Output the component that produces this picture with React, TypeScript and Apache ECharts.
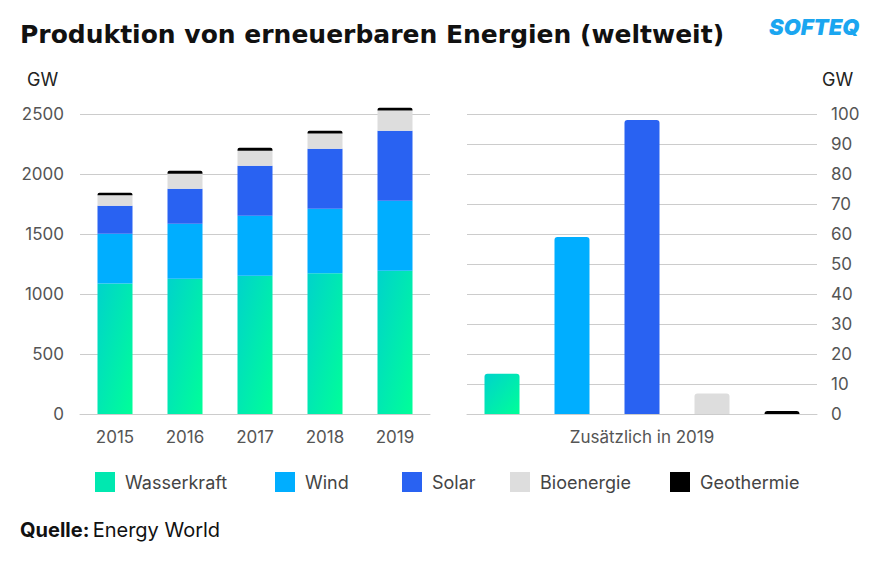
import React, { useEffect, useRef } from "react";
import * as echarts from "echarts";

const years = ["2015", "2016", "2017", "2018", "2019"];
const seriesNames = ["Wasserkraft", "Wind", "Solar", "Bioenergie", "Geothermie"];
const hydro = [1088, 1127, 1152, 1172, 1194];
const wind = [414, 459, 500, 539, 583];
const solar = [233, 291, 417, 500, 584];
const bio = [87, 125, 125, 127, 169];
const geo = [22, 25, 25, 23, 22];
const added2019 = [13.4, 59, 98, 6.8, 1];
const rightCategory = ["Zusätzlich in 2019"];
const leftTicks = { min: 0, max: 2500, interval: 500 };
const rightTicks = { min: 0, max: 100, interval: 10 };

const FONT = "Inter, 'Noto Sans', sans-serif";
const TITLE_FONT = "'DejaVu Sans', Inter, sans-serif";

export default function App() {
  const ref = useRef<HTMLDivElement>(null);

  useEffect(() => {
    if (!ref.current) return;
    const chart = echarts.init(ref.current, null, { renderer: "svg" });

    const hydroColor = new echarts.graphic.LinearGradient(0, 0, 1, 1, [
      { offset: 0, color: "#00D3CB" },
      { offset: 1, color: "#00FF98" },
    ]);
    const colors: any[] = [hydroColor, "#00AEFF", "#2962F2", "#DDDDDD", "#000000"];
    const legendColors = ["#00E8B0", "#00AEFF", "#2962F2", "#DDDDDD", "#000000"];
    const legendLefts = [95, 275, 402, 510, 670];
    const leftData = [hydro, wind, solar, bio, geo];

    const axisLabel = { color: "#555", fontSize: 17, fontFamily: FONT };
    const splitLine = { show: true, lineStyle: { color: "#cccccc", width: 1 } };

    const series: any[] = [];
    seriesNames.forEach((name, i) => {
      series.push({
        name,
        type: "bar",
        stack: "total",
        xAxisIndex: 0,
        yAxisIndex: 0,
        barWidth: 35,
        clip: false,
        data: leftData[i],
        itemStyle: {
          color: colors[i],
          borderRadius: i === 4 ? [2, 2, 0, 0] : 0,
        },
      });
    });
    seriesNames.forEach((name, i) => {
      series.push({
        name,
        type: "bar",
        xAxisIndex: 1,
        yAxisIndex: 1,
        barWidth: 35,
        barGap: "100%",
        data: [added2019[i]],
        itemStyle: { color: colors[i], borderRadius: [3, 3, 0, 0] },
      });
    });

    chart.setOption({
      animation: false,
      backgroundColor: "#ffffff",
      textStyle: { fontFamily: FONT },
      grid: [
        { left: 80, top: 114, width: 350, height: 300 },
        { left: 467, top: 114, width: 350, height: 300 },
      ],
      xAxis: [
        {
          type: "category",
          gridIndex: 0,
          data: years,
          axisLine: { lineStyle: { color: "#cccccc" } },
          axisTick: { show: false },
          axisLabel: { ...axisLabel, margin: 14 },
        },
        {
          type: "category",
          gridIndex: 1,
          data: rightCategory,
          axisLine: { lineStyle: { color: "#cccccc" } },
          axisTick: { show: false },
          axisLabel: { ...axisLabel, margin: 14 },
        },
      ],
      yAxis: [
        {
          type: "value",
          gridIndex: 0,
          ...leftTicks,
          axisLine: { show: false },
          axisTick: { show: false },
          axisLabel: { ...axisLabel, margin: 16, formatter: (v: number) => String(v) },
          splitLine,
        },
        {
          type: "value",
          gridIndex: 1,
          position: "right",
          ...rightTicks,
          axisLine: { show: false },
          axisTick: { show: false },
          axisLabel: { ...axisLabel, margin: 14, formatter: (v: number) => String(v) },
          splitLine,
        },
      ],
      legend: seriesNames.map((n, i) => ({
        data: [{ name: n, itemStyle: { color: legendColors[i] } }],
        left: legendLefts[i],
        top: 472,
        padding: 0,
        itemWidth: 20,
        itemHeight: 20,
        icon: "rect",
        textStyle: { color: "#444", fontSize: 18, fontFamily: FONT, padding: [0, 0, 0, 5] },
        selectedMode: false,
      })),
      graphic: [
        {
          type: "text",
          left: 20,
          top: 22,
          style: {
            text: "Produktion von erneuerbaren Energien (weltweit)",
            fontSize: 25,
            fontWeight: "bold",
            fill: "#111",
            fontFamily: TITLE_FONT,
          },
        },
        {
          type: "text",
          left: 769,
          top: 16,
          style: {
            text: "SOFTEQ",
            fontSize: 22,
            fontWeight: 900,
            fontStyle: "italic",
            fill: "#1BA6F0",
            fontFamily: FONT,
          },
        },
        {
          type: "text",
          left: 27,
          top: 70,
          style: { text: "GW", fontSize: 18, fill: "#222", fontFamily: FONT },
        },
        {
          type: "text",
          left: 822,
          top: 70,
          style: { text: "GW", fontSize: 18, fill: "#222", fontFamily: FONT },
        },
        {
          type: "text",
          left: 20,
          top: 520,
          style: {
            text: "{b|Quelle:} {n|Energy World}",
            rich: {
              b: { fontSize: 20, fontWeight: "bold", fill: "#111", fontFamily: FONT },
              n: { fontSize: 20, fill: "#111", fontFamily: FONT },
            },
          },
        },
      ],
      series,
    });

    return () => chart.dispose();
  }, []);

  return (
    <div
      ref={ref}
      style={{ position: "fixed", left: 0, top: 0, width: 880, height: 562 }}
    />
  );
}
